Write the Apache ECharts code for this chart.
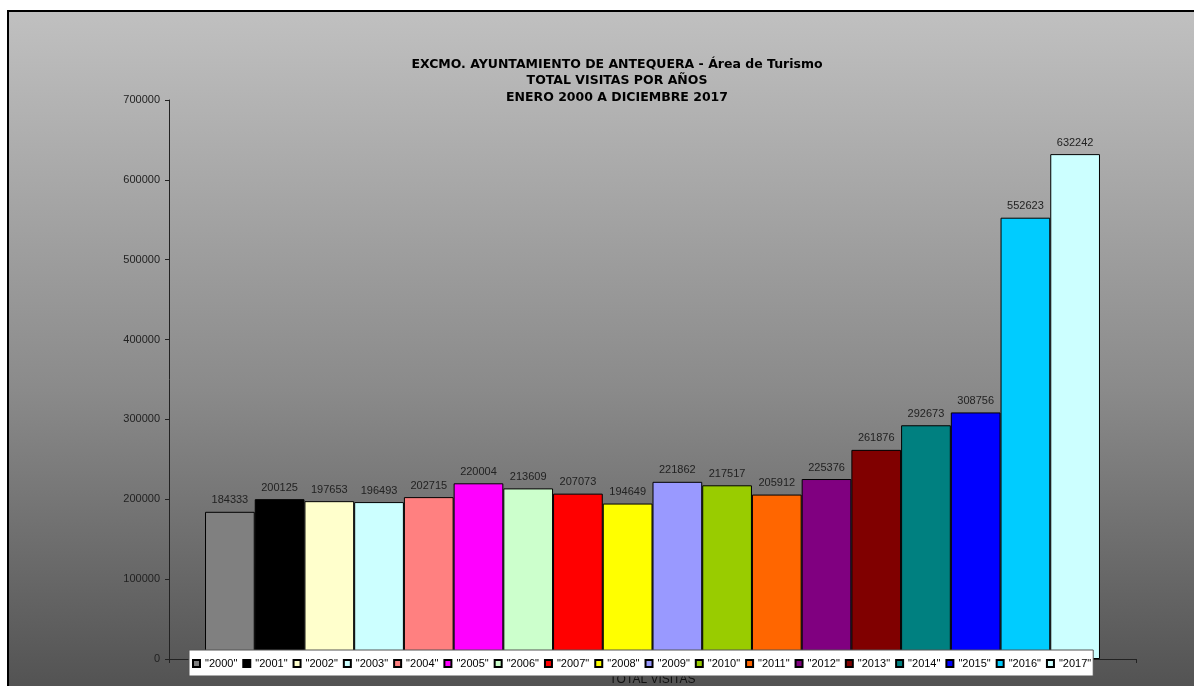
<!DOCTYPE html>
<html>
<head>
<meta charset="utf-8">
<title>Total visitas por años</title>
<script src="https://cdn.jsdelivr.net/npm/echarts@6/dist/echarts.min.js"></script>
<style>
  html, body { margin: 0; padding: 0; background: #fff; }
  #frame {
    position: absolute; left: 7px; top: 10px; width: 1200px; height: 690px;
    border-top: 2px solid #000; border-left: 2px solid #000;
    background: linear-gradient(to bottom, #c0c0c0 0%, #8a8a8a 55%, #505050 100%);
  }
  #chart { position: absolute; left: 0; top: 0; width: 1194px; height: 686px; }
</style>
</head>
<body>
<div id="frame"></div>
<div id="chart"></div>
<script>
// Years shown in the legend (one series per year, as in the original sheet).
var years = ['"2000"', '"2001"', '"2002"', '"2003"', '"2004"', '"2005"', '"2006"', '"2007"', '"2008"',
  '"2009"', '"2010"', '"2011"', '"2012"', '"2013"', '"2014"', '"2015"', '"2016"', '"2017"'];
var visits = [184333, 200125, 197653, 196493, 202715, 220004, 213609, 207073, 194649,
  221862, 217517, 205912, 225376, 261876, 292673, 308756, 552623, 632242];
var colors = ['#808080', '#000000', '#ffffcc', '#ccffff', '#ff8080', '#ff00ff', '#ccffcc', '#ff0000', '#ffff00',
  '#9999ff', '#99cc00', '#ff6600', '#800080', '#800000', '#008080', '#0000ff', '#00ccff', '#ccffff'];
var categories = ['TOTAL VISITAS'];
var titleLines = ['EXCMO. AYUNTAMIENTO DE ANTEQUERA - Área de Turismo', 'TOTAL VISITAS POR AÑOS', 'ENERO 2000 A DICIEMBRE 2017'];

var chart = echarts.init(document.getElementById('chart'), null, {renderer: 'canvas'});

var series = years.map(function (year, i) {
  return {
    name: year,
    type: 'bar',
    data: [visits[i]],
    barGap: '0%',
    barCategoryGap: '7.45%',
    itemStyle: {color: colors[i], borderColor: '#000', borderWidth: 1},
    label: {
      show: true,
      position: 'top',
      distance: 6,
      color: '#222',
      fontFamily: 'Arial, Liberation Sans',
      fontSize: 11
    },
    animation: false
  };
});

var option = {
  backgroundColor: 'transparent',
  title: {
    text: titleLines.join('\n'),
    left: 612,
    top: 51,
    textAlign: 'center',
    textStyle: {
      fontFamily: 'DejaVu Sans',
      fontSize: 12.5,
      fontWeight: 'bold',
      color: '#000',
      lineHeight: 16.5
    }
  },
  grid: {
    left: 169,
    right: 58,
    top: 100,
    bottom: 25,
    containLabel: false
  },
  legend: {
    data: years,
    left: 189,
    top: 650,
    width: 1000,
    orient: 'horizontal',
    backgroundColor: '#fff',
    borderColor: '#555',
    borderWidth: 1,
    borderRadius: 0,
    padding: [8, 2, 7, 3],
    itemWidth: 7,
    itemHeight: 7,
    itemGap: 5,
    icon: 'rect',
    textStyle: {fontFamily: 'Arial, Liberation Sans', fontSize: 11, color: '#000'}
  },
  xAxis: {
    type: 'category',
    data: categories,
    axisLine: {lineStyle: {color: '#222', width: 1}},
    axisTick: {show: true, length: 4, lineStyle: {color: '#222'}},
    axisLabel: {margin: 15, fontFamily: 'Arial, Liberation Sans', fontSize: 12, color: '#111'}
  },
  yAxis: {
    type: 'value',
    min: 0,
    max: 700000,
    interval: 100000,
    axisLine: {show: true, lineStyle: {color: '#222', width: 1}},
    axisTick: {show: true, inside: false, length: 4, lineStyle: {color: '#222'}},
    splitLine: {show: false},
    axisLabel: {
      margin: 9,
      fontFamily: 'Arial, Liberation Sans',
      fontSize: 11,
      color: '#222',
      formatter: function (v) { return String(v); }
    }
  },
  series: series
};

chart.setOption(option);
</script>
</body>
</html>
